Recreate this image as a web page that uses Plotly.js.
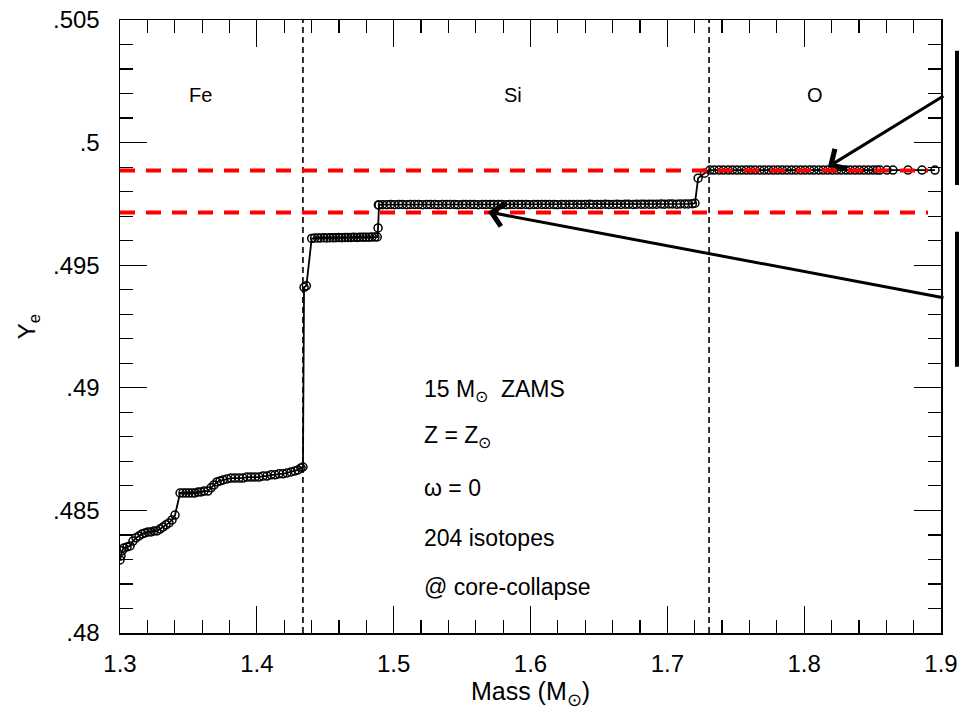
<!DOCTYPE html>
<html>
<head>
<meta charset="utf-8">
<script src="https://cdn.plot.ly/plotly-3.0.1.min.js"></script>
<style>html,body{margin:0;padding:0;background:#fff;}#chart{width:959px;height:714px;}</style>
</head>
<body>
<div id="chart"></div>
<script>
// ---- Data ----
// Fe core
var massFe = [1.3000,1.3007,1.3015,1.3029,1.3051,1.3073,1.3095,1.3117,1.3139,1.3161,1.3183,1.3205,1.3227,1.3248,1.3270,1.3292,1.3314,1.3336,1.3358,1.3380,1.3402,1.3439,1.3460,1.3482,1.3504,1.3526,1.3548,1.3570,1.3592,1.3614,1.3643,1.3665,1.3687,1.3709,1.3731,1.3753,1.3782,1.3811,1.3840,1.3870,1.3899,1.3928,1.3957,1.3987,1.4016,1.4045,1.4074,1.4104,1.4133,1.4162,1.4191,1.4220,1.4250,1.4279,1.4301,1.4323,1.4337];
var yeFe = [0.48298,0.48314,0.48335,0.48347,0.48351,0.48355,0.48375,0.48388,0.48396,0.48404,0.48408,0.48412,0.48412,0.48416,0.48416,0.48424,0.48432,0.48441,0.48449,0.48461,0.48481,0.48571,0.48571,0.48571,0.48571,0.48571,0.48571,0.48575,0.48575,0.48579,0.48579,0.48592,0.48604,0.48616,0.48620,0.48624,0.48628,0.48632,0.48632,0.48632,0.48632,0.48636,0.48636,0.48636,0.48636,0.48640,0.48640,0.48645,0.48645,0.48649,0.48649,0.48653,0.48657,0.48661,0.48665,0.48673,0.48677];
// jump at Fe/Si boundary
var massJump = [1.4345,1.4362];
var yeJump = [0.49410,0.49416];
// lower Si step
var massSi1 = [1.4401,1.4422,1.4445,1.4466,1.4490,1.4511,1.4534,1.4556,1.4577,1.4600,1.4621,1.4645,1.4666,1.4688,1.4709,1.4732,1.4753,1.4776,1.4797,1.4820,1.4841,1.4863,1.4880];
var yeSi1 = [0.49609,0.49611,0.49611,0.49611,0.49612,0.49611,0.49612,0.49612,0.49612,0.49613,0.49612,0.49613,0.49613,0.49613,0.49614,0.49613,0.49614,0.49614,0.49614,0.49614,0.49615,0.49615,0.49615];
// step up
var massStep2 = [1.4886,1.4888];
var yeStep2 = [0.49652,0.49746];
// upper Si band
var massSi2 = [1.4893,1.4919,1.4950,1.4978,1.5006,1.5037,1.5064,1.5095,1.5122,1.5153,
  1.5181,1.5210,1.5242,1.5268,1.5300,1.5326,1.5355,1.5387,1.5413,1.5445,
  1.5471,1.5503,1.5529,1.5561,1.5588,1.5617,1.5649,1.5675,1.5706,1.5732,
  1.5764,1.5790,1.5822,1.5849,1.5878,1.5910,1.5935,1.5967,1.5993,1.6025,
  1.6051,1.6083,1.6110,1.6139,1.6171,1.6196,1.6228,1.6254,1.6286,1.6312,
  1.6344,1.6371,1.6400,1.6432,1.6457,1.6489,1.6515,1.6547,1.6573,1.6605,
  1.6632,1.6661,1.6693,1.6718,1.6750,1.6776,1.6808,1.6834,1.6866,1.6893,
  1.6922,1.6954,1.6979,1.7011,1.7037,1.7069,1.7095,1.7127,1.7154,1.7183,
  1.7202];
var yeSi2 = [0.49746,0.49747,0.49747,0.49748,0.49747,0.49748,0.49748,0.49747,0.49748,0.49748,
  0.49748,0.49747,0.49748,0.49748,0.49748,0.49747,0.49748,0.49748,0.49748,0.49748,
  0.49747,0.49748,0.49748,0.49748,0.49748,0.49747,0.49748,0.49748,0.49748,0.49748,
  0.49748,0.49748,0.49747,0.49748,0.49748,0.49748,0.49748,0.49748,0.49747,0.49748,
  0.49748,0.49748,0.49748,0.49748,0.49748,0.49747,0.49748,0.49748,0.49748,0.49748,
  0.49748,0.49748,0.49748,0.49749,0.49748,0.49748,0.49748,0.49749,0.49748,0.49748,
  0.49749,0.49748,0.49749,0.49749,0.49748,0.49749,0.49749,0.49749,0.49749,0.49749,
  0.49749,0.49750,0.49749,0.49750,0.49750,0.49749,0.49750,0.49750,0.49750,0.49751,
  0.49753];
// step up into O shell
var massStep3 = [1.7225,1.7272];
var yeStep3 = [0.49855,0.49875];
// O shell
var massO = [1.7312,1.7343,1.7378,1.7410,1.7445,1.7476,1.7510,1.7543,1.7577,1.7609,
  1.7642,1.7676,1.7708,1.7741,1.7775,1.7807,1.7841,1.7873,1.7908,1.7940,
  1.7974,1.8006,1.8040,1.8072,1.8106,1.8139,1.8172,1.8205,1.8238,1.8271,
  1.8305,1.8337,1.8371,1.8404,1.8437,1.8470,1.8503,1.8532,1.8554,1.8605,
  1.8649,1.8759,1.8861,1.8956];
var yeO = [0.49888,0.49888,0.49888,0.49888,0.49888,0.49888,0.49888,0.49888,0.49888,0.49888,
  0.49888,0.49888,0.49888,0.49888,0.49888,0.49888,0.49888,0.49888,0.49888,0.49888,
  0.49888,0.49888,0.49888,0.49888,0.49888,0.49888,0.49888,0.49888,0.49888,0.49888,
  0.49888,0.49888,0.49888,0.49888,0.49888,0.49888,0.49888,0.49888,0.49888,0.49888,
  0.49888,0.49888,0.49888,0.49888];

// shell boundaries and reference Ye levels
var boundaryMass = [1.4337, 1.7305];
var refYe = [0.49886, 0.49715];
var refMassExtent = [1.3, 1.8905];
var yRange = [0.48, 0.505];
var xRange = [1.3, 1.9];

// labels
var shellNames = ['Fe', 'Si', 'O'];
var shellLabelMass = [1.3585, 1.5872, 1.8079];
var shellLabelYe = 0.50194;
var infoLines = ['15 M<sub>\u2299</sub>  ZAMS', 'Z = Z<sub>\u2299</sub>', '\u03c9 = 0', '204 isotopes', '@ core-collapse'];
var infoYe = [0.48991, 0.48800, 0.48592, 0.48388, 0.48188];
var infoMass = 1.5207;
var yTickVals = [0.48, 0.485, 0.49, 0.495, 0.5, 0.505];
var yTickText = ['.48', '.485', '.49', '.495', '.5', '.505'];
var xTickVals = [1.3, 1.4, 1.5, 1.6, 1.7, 1.8, 1.9];
var xTickText = ['1.3', '1.4', '1.5', '1.6', '1.7', '1.8', '1.9'];

// arrows: [head mass, head Ye, tail mass, tail Ye]
var arrowO = [1.8174, 0.49901, 1.9029, 0.50194];
var arrowSi = [1.5690, 0.49717, 1.9029, 0.49366];

// ---- Build ----
var allMass = [].concat(massFe, massJump, massSi1, massStep2, massSi2, massStep3, massO);
var allYe = [].concat(yeFe, yeJump, yeSi1, yeStep2, yeSi2, yeStep3, yeO);

var FONT = 'Liberation Sans, Arial, Helvetica, sans-serif';
var traces = [];

boundaryMass.forEach(function (m) {
  traces.push({
    x: [m, m], y: yRange, mode: 'lines', hoverinfo: 'skip', showlegend: false,
    line: {color: 'black', width: 1.6, dash: '6px,4px'}
  });
});

traces.push({
  x: allMass, y: allYe, mode: 'lines+markers', showlegend: false, hoverinfo: 'skip',
  line: {color: 'black', width: 1.8},
  marker: {symbol: 'circle-open', size: 8, color: 'black', line: {width: 1.5, color: 'black'}}
});

refYe.forEach(function (v) {
  traces.push({
    x: refMassExtent, y: [v, v], mode: 'lines', hoverinfo: 'skip', showlegend: false,
    line: {color: '#ff0000', width: 4, dash: '15px,11px'}
  });
});

var annotations = [];
shellNames.forEach(function (n, i) {
  annotations.push({x: shellLabelMass[i], y: shellLabelYe, xref: 'x', yref: 'y', text: n,
    showarrow: false, font: {family: FONT, size: 20, color: 'black'}});
});
infoLines.forEach(function (t, i) {
  annotations.push({x: infoMass, y: infoYe[i], xref: 'x', yref: 'y', text: t, xanchor: 'left',
    showarrow: false, font: {family: FONT, size: 23, color: 'black'}});
});
[arrowO, arrowSi].forEach(function (a) {
  annotations.push({x: a[0], y: a[1], xref: 'x', yref: 'y', ax: a[2], ay: a[3], axref: 'x', ayref: 'y',
    text: '', showarrow: true, arrowhead: 4, arrowsize: 1.5, arrowwidth: 3, arrowcolor: 'black', standoff: 0});
});

var layout = {
  width: 959, height: 714,
  margin: {l: 120, r: 18, t: 20, b: 81},
  paper_bgcolor: 'white', plot_bgcolor: 'white',
  font: {family: FONT, color: 'black'},
  showlegend: false,
  xaxis: {
    range: xRange, tickmode: 'array', tickvals: xTickVals, ticktext: xTickText,
    ticks: 'inside', ticklen: 27, tickwidth: 1.2, tickcolor: 'black',
    minor: {tickmode: 'linear', tick0: 1.3, dtick: 0.02, ticks: 'inside', ticklen: 13, tickwidth: 1.2, tickcolor: 'black'},
    showline: true, linecolor: 'black', linewidth: 1.5, mirror: 'allticks',
    showgrid: false, zeroline: false,
    tickfont: {family: FONT, size: 24, color: 'black'}, ticklabelstandoff: 9,
    title: {text: 'Mass (M<sub>\u2299</sub>)', font: {family: FONT, size: 25, color: 'black'}, standoff: 6}
  },
  yaxis: {
    range: yRange, tickmode: 'array', tickvals: yTickVals, ticktext: yTickText,
    ticks: 'inside', ticklen: 27, tickwidth: 1.2, tickcolor: 'black',
    minor: {tickmode: 'linear', tick0: 0.48, dtick: 0.001, ticks: 'inside', ticklen: 13, tickwidth: 1.2, tickcolor: 'black'},
    showline: true, linecolor: 'black', linewidth: 1.5, mirror: 'allticks',
    showgrid: false, zeroline: false,
    tickfont: {family: FONT, size: 24, color: 'black'}, ticklabelstandoff: 14,
    title: {text: 'Y<sub>e</sub>', font: {family: FONT, size: 24, color: 'black'}, standoff: 10}
  },
  annotations: annotations,
  shapes: [
    {type: 'line', xref: 'paper', yref: 'paper', x0: 1.0195, x1: 1.0195, y0: 0.7308, y1: 0.9499, line: {color: 'black', width: 4}},
    {type: 'line', xref: 'paper', yref: 'paper', x0: 1.0195, x1: 1.0195, y0: 0.4344, y1: 0.6547, line: {color: 'black', width: 4}}
  ]
};

Plotly.newPlot('chart', traces, layout, {staticPlot: true, displayModeBar: false});
</script>
</body>
</html>
